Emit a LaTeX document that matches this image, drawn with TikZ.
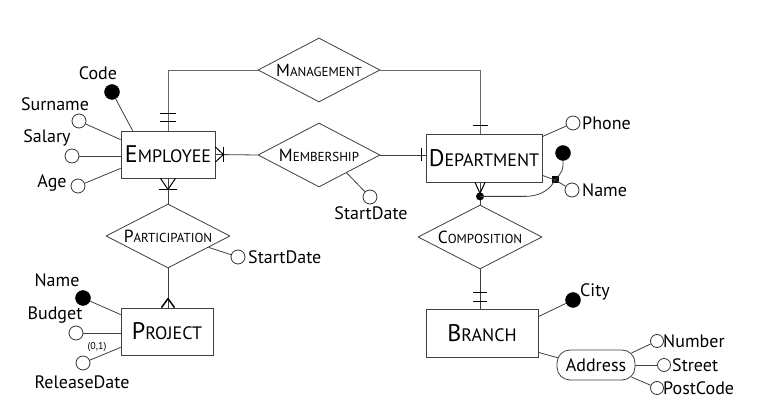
\documentclass[tikz,border=0pt]{standalone}
\usepackage{fontspec}
\setmainfont{PT Sans}
\usetikzlibrary{shapes.geometric,calc}
\newcommand\entname[2]{{\fontsize{24}{24}\selectfont #1}{\fontsize{18}{18}\selectfont #2}}
\newcommand\relname[2]{{\fontsize{17.5}{18}\selectfont #1}{\fontsize{13}{13}\selectfont #2}}
\begin{document}
\begin{tikzpicture}[x=1pt,y=-1pt,
 line/.style={draw=black!75, line width=0.8pt},
 entity/.style={draw=black!75, line width=0.8pt, rectangle, inner sep=0pt, text=black},
 rel/.style={draw=black!75, line width=0.8pt, diamond, aspect=1.9, inner sep=0pt, minimum width=122pt, minimum height=64pt},
 attr/.style={circle, draw=black!80, line width=0.8pt, fill=white, minimum size=14pt, inner sep=0pt},
 key/.style={circle, draw=black, fill=black, minimum size=15pt, inner sep=0pt},
 lab/.style={font=\fontsize{18}{18}\selectfont, inner sep=0pt},
 card/.style={draw=black, line width=1pt, line join=round},
]
\fill[white] (0,0) rectangle (766,419);
\useasboundingbox (0,0) rectangle (766,419);

% entities
\node[entity, minimum width=94pt, minimum height=47pt] (emp) at (168,154.5) {\entname{E}{MPLOYEE}};
\node[entity, minimum width=116pt, minimum height=48pt] (dept) at (484,158) {\entname{D}{EPARTMENT}};
\node[entity, minimum width=92pt, minimum height=47pt] (proj) at (167,331.5) {\entname{P}{ROJECT}};
\node[entity, minimum width=112pt, minimum height=48pt] (branch) at (482,333) {\entname{B}{RANCH}};

% relationships
\node[rel] (mgmt) at (319,70) {\relname{M}{ANAGEMENT}};
\node[rel] (mem) at (319,155) {\relname{M}{EMBERSHIP}};
\node[rel, minimum width=124pt] (part) at (168,236) {\relname{P}{ARTICIPATION}};
\node[rel, minimum width=124pt] (comp) at (480,237) {\relname{C}{OMPOSITION}};

\coordinate (dtop) at (comp.north |- dept.north);
\coordinate (dbot) at (comp.north |- dept.south);
\coordinate (dleft) at (mem.east -| dept.west);
\coordinate (ptop) at (part.south |- proj.north);
\coordinate (btop) at (comp.south |- branch.north);

% connectors
\draw[line, draw=black!60] (emp.north) |- (mgmt.west);
\draw[line, draw=black!60] (mgmt.east) -| (dtop);
\draw[line] (emp.east) -- (mem.west);
\draw[line] (mem.east) -- (dleft);
\draw[line] (emp.south) -- (part.north);
\draw[line] (part.south) -- (ptop);
\draw[line] (dbot) -- (comp.north);
\draw[line] (comp.south) -- (btop);

% cardinalities
\draw[card] ($(emp.north)+(-8,-9)$) -- ($(emp.north)+(8,-9)$);
\draw[card] ($(emp.north)+(-8,-17)$) -- ($(emp.north)+(8,-17)$);
\draw[card] ($(dtop)+(-7.5,-8)$) -- ($(dtop)+(7.5,-8)$);
\draw[card] ($(dleft)+(-4,-6.5)$) -- ($(dleft)+(-4,6.5)$);
\draw[card] ($(emp.east)+(0,-7.5)$) -- ($(emp.east)+(8,0)$) -- ($(emp.east)+(0,7.5)$);
\draw[card] ($(emp.east)+(8,-7.5)$) -- ($(emp.east)+(8,7.5)$);
\draw[card] ($(emp.south)+(-7.5,0)$) -- ($(emp.south)+(0,11)$) -- ($(emp.south)+(7.5,0)$);
\draw[card] ($(emp.south)+(-9,11.5)$) -- ($(emp.south)+(9,11.5)$);
\draw[card] ($(dbot)+(-5,0)$) -- ($(dbot)+(0,11)$) -- ($(dbot)+(5,0)$);
\draw[card, line width=1.5pt] ($(ptop)+(-6.5,0)$) -- ($(ptop)+(0,-9)$) -- ($(ptop)+(6.5,0)$);
\draw[card] ($(btop)+(-7,-7)$) -- ($(btop)+(7,-7)$);
\draw[card] ($(btop)+(-7,-16)$) -- ($(btop)+(7,-16)$);

% Employee attributes
\node[key] (ecode) at (112,92) {};
\node[lab] (ecodet) at (98,73) {Code};
\draw[line] (ecode) -- ($(emp.north west)+(12,0)$);
\node[attr] (esur) at (79,121) {};
\node[lab] (esurt) at (55,104) {Surname};
\draw[line] (esur) -- ($(emp.north west)+(0,9)$);
\node[attr] (esal) at (72,156) {};
\node[lab] (esalt) at (47,138) {Salary};
\draw[line] (esal) -- (esal -| emp.west);
\node[attr] (eage) at (78,186) {};
\node[lab] (eaget) at (52,183) {Age};
\draw[line] (eage) -- ($(emp.south west)+(0,-10)$);

% Membership attribute
\node[attr] (msd) at (370,197) {};
\node[lab] (msdt) at (371,213) {StartDate};
\draw[line] (msd) -- ($(mem.south)!0.45!(mem.east)$);

% Participation attribute
\node[attr] (psd) at (238,257) {};
\node[lab, anchor=west] (psdt) at (248,257) {StartDate};
\draw[line] (psd) -- ($(part.south)!0.65!(part.east)$);

% Project attributes
\node[key] (pname) at (83,298) {};
\node[lab] (pnamet) at (57,280) {Name};
\draw[line] (pname) -- ($(proj.north west)+(0,7)$);
\node[attr] (pbud) at (76,333) {};
\node[lab] (pbudt) at (55,315) {Budget};
\draw[line] (pbud) -- (pbud -| proj.west);
\node[attr] (prel) at (83,363) {};
\node[lab] (prelt) at (82,382) {ReleaseDate};
\node[font=\fontsize{10}{10}\selectfont, inner sep=0pt] (pcard) at (97,347) {(0,1)};
\draw[line] (prel) -- ($(proj.south west)+(0,-8)$);

% Department attributes
\node[attr] (dph) at (573,123) {};
\node[lab, anchor=west] (dpht) at (582,123) {Phone};
\draw[line] ($(dept.north east)+(0,3)$) -- (dph);
\node[fill=black, minimum size=7pt, inner sep=0pt] (dsq) at (555,180) {};
\node[attr] (dname) at (572,190) {};
\node[lab, anchor=west] (dnamet) at (582,190) {Name};
\draw[line] ($(dept.south east)+(0,-7)$) -- (dsq.center) -- (dname);
\node[circle, fill=black, minimum size=8pt, inner sep=0pt] (ddot) at ($(dbot)+(0,14)$) {};
\draw[line] (ddot.center) -- ($(ddot.center)+(45,0)$) .. controls ($(ddot.center)+(62,0)$) and ($(dsq.center)+(-4,8)$) .. (dsq.center);
\node[key] (dkey) at (563,153) {};
\draw[line] (dkey.south) .. controls ($(dkey.south)+(0,10)$) .. (dsq.center);

% Branch attributes
\node[key] (bcity) at (573,300) {};
\node[lab, anchor=west] (bcityt) at (580,292) {City};
\draw[line] ($(branch.north east)+(0,8)$) -- (bcity);
\node[draw=black!75, line width=0.8pt, rounded corners=13pt, minimum width=78pt, minimum height=30pt, inner sep=0pt, font=\fontsize{18}{18}\selectfont] (addr) at (596,365) {Address};
\draw[line] ($(branch.south east)+(0,-5)$) -- ($(addr.west)+(2,-7)$);
\node[attr, minimum size=13pt] (anum) at (657,341) {};
\node[lab, anchor=west] (anumt) at (663,341) {Number};
\draw[line] ($(addr.east)+(-4,-12)$) -- (anum);
\node[attr, minimum size=13pt] (astr) at (664,365) {};
\node[lab, anchor=west] (astrt) at (672,365) {Street};
\draw[line] (addr.east) -- (astr);
\node[attr, minimum size=13pt] (apc) at (657,388) {};
\node[lab, anchor=west] (apct) at (663,388) {PostCode};
\draw[line] ($(addr.east)+(-4,12)$) -- (apc);
\end{tikzpicture}
\end{document}
